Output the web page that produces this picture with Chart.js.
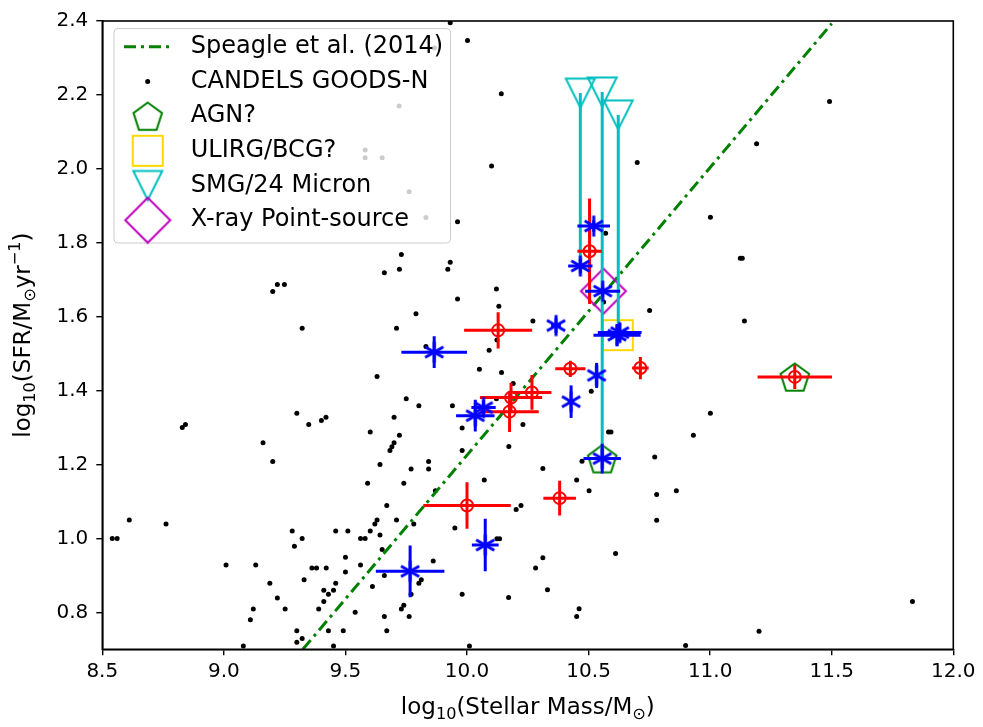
<!DOCTYPE html>
<html>
<head>
<meta charset="utf-8">
<title>SFR vs stellar mass</title>
<script src="https://cdn.jsdelivr.net/npm/chart.js@4.4.1/dist/chart.umd.min.js"></script>
<style>
  html, body { margin: 0; padding: 0; background: #fff; }
  #wrap { width: 983px; height: 727px; }
</style>
</head>
<body>
<div id="wrap"><canvas id="sfrChart" width="983" height="727"></canvas></div>
<script>
// CANDELS GOODS-N field galaxies
var candelsMass = [
  8.541, 8.561, 8.611, 8.762, 8.829, 8.842, 9.009, 9.131, 9.080, 9.109, 9.121, 9.189, 9.220, 9.252,
  9.161, 9.201, 9.300, 9.349, 9.401, 9.420, 9.281, 9.290, 9.322, 9.330, 9.362, 9.381, 9.421, 9.411,
  9.430, 9.411, 9.390, 9.451, 9.460, 9.460, 9.510, 9.500, 9.500, 9.300, 9.300, 9.322, 9.430, 9.451,
  9.491, 9.540, 9.562, 9.562, 9.581, 9.602, 9.611, 9.602, 9.591, 9.642, 9.621, 9.630, 9.642, 9.651,
  9.660, 9.670, 9.710, 9.683, 9.691, 9.700, 9.722, 9.700, 9.740, 9.770, 9.781, 9.660, 9.670, 9.730,
  9.740, 9.762, 9.770, 9.802, 9.812, 9.861, 9.802, 9.842, 9.842, 9.870, 9.940, 9.980, 9.980, 9.950,
  9.980, 10.010,
  9.201, 9.220, 9.249, 9.322, 9.630, 9.750, 9.660, 9.722, 9.730, 9.921, 9.931, 9.961, 9.790, 9.710,
  9.961, 9.762, 9.831,
  9.866, 9.721, 9.581, 9.581, 9.651, 9.931, 10.002,
  10.141, 10.101, 10.700, 10.121, 11.491, 11.191, 11.001, 11.124, 11.132, 10.570, 10.562,
  10.131, 10.271, 10.751, 9.831, 10.091, 10.123, 10.051, 10.142, 10.190, 10.121, 10.230, 10.172,
  10.511, 10.582, 10.592, 10.071, 10.312, 10.473, 10.451, 10.502, 10.772, 10.780, 10.861,
  11.141, 11.001, 10.931, 10.780, 10.611, 10.461, 10.451, 11.201, 10.899, 11.832,
  10.202, 10.222, 10.123, 10.134, 10.312, 10.282, 10.331, 10.171
];
var candelsSfr = [
  1.000, 1.000, 1.050, 1.039, 1.300, 1.308, 0.928, 0.928, 0.709, 0.780, 0.809, 0.879, 0.839, 0.809,
  1.259, 1.208, 1.339, 1.308, 1.319, 1.328, 1.020, 0.979, 1.000, 0.888, 0.920, 0.920, 0.920, 0.860,
  0.849, 0.829, 0.809, 0.860, 0.879, 1.020, 1.020, 0.949, 0.909, 0.750, 0.719, 0.729, 0.750, 0.709,
  0.750, 0.800, 0.928, 1.000, 1.000, 1.020, 0.870, 1.288, 1.149, 1.200, 1.039, 1.050, 1.009, 0.970,
  0.900, 1.089, 1.050, 1.238, 1.248, 1.259, 1.279, 1.328, 1.149, 1.188, 1.039, 0.789, 0.750, 0.809,
  0.819, 0.789, 0.849, 0.879, 0.888, 0.939, 1.359, 1.208, 1.188, 1.129, 1.359, 1.299, 1.238, 1.028,
  0.849, 0.709,
  1.668, 1.687, 1.687, 1.569, 1.438, 1.378, 1.719, 1.728, 1.768, 1.728, 1.747, 1.648, 1.608, 1.569,
  1.857, 1.938, 1.868,
  2.327, 2.170, 2.051, 2.030, 2.030, 2.395, 2.347,
  2.203, 2.008, 2.017, 1.675, 2.182, 2.068, 1.869, 1.758, 1.758, 1.826, 1.640,
  1.628, 1.588, 1.617, 1.519, 1.509, 1.537, 1.458, 1.449, 1.419, 1.378, 1.308, 1.249,
  1.398, 1.288, 1.288, 1.158, 1.189, 1.209, 1.158, 1.129, 1.220, 1.119, 1.129,
  1.588, 1.339, 1.279, 1.049, 0.959, 0.810, 0.789, 0.749, 0.710, 0.829,
  1.078, 1.089, 0.999, 0.999, 0.948, 0.920, 0.861, 0.840
];

// red sample (open circles with error bars)
var redMass    = [10.128, 10.425, 10.713, 10.267, 10.181, 10.175, 10.504, 10.381, 11.348, 10.000];
var redSfr     = [1.563, 1.459, 1.461, 1.395, 1.381, 1.343, 1.777, 1.109, 1.437, 1.089];
var redMassErr = [0.140, 0.062, 0.034, 0.080, 0.128, 0.120, 0.050, 0.067, 0.153, 0.180];
var redSfrErr  = [0.049, 0.022, 0.030, 0.047, 0.040, 0.055, 0.143, 0.047, 0.033, 0.063];

// blue sample (asterisks with error bars)
var blueMass    = [9.865, 10.366, 10.617, 10.628, 10.533, 10.428, 10.034, 10.068, 10.556, 9.766, 10.075, 10.521, 10.466, 10.558];
var blueSfr     = [1.504, 1.576, 1.550, 1.557, 1.441, 1.370, 1.332, 1.354, 1.216, 0.911, 0.982, 1.845, 1.737, 1.669];
var blueMassErr = [0.135, 0.020, 0.097, 0.090, 0.000, 0.000, 0.079, 0.050, 0.077, 0.141, 0.055, 0.067, 0.050, 0.072];
var blueSfrErr  = [0.043, 0.020, 0.030, 0.025, 0.034, 0.044, 0.043, 0.020, 0.040, 0.070, 0.071, 0.015, 0.020, 0.015];

// flagged objects
var agnMass = [11.348, 10.556];
var agnSfr  = [1.437, 1.216];
var ulirgMass = [10.620];
var ulirgSfr  = [1.550];
var smgMass = [10.466, 10.556, 10.622];
var smgSfr  = [2.205, 2.208, 2.146];
var smgSfrBase = [1.737, 1.216, 1.550];
var xrayMass = [10.561];
var xraySfr  = [1.669];

// Speagle et al. (2014) main sequence
var speagleMass = [9.325, 11.500];
var speagleSfr  = [0.700, 2.393];

var massTicks = [8.5, 9.0, 9.5, 10.0, 10.5, 11.0, 11.5, 12.0];
var sfrTicks = [0.8, 1.0, 1.2, 1.4, 1.6, 1.8, 2.0, 2.2, 2.4];

var legendLabels = ['Speagle et al. (2014)', 'CANDELS GOODS-N', 'AGN?', 'ULIRG/BCG?', 'SMG/24 Micron', 'X-ray Point-source'];

var FONT = '"DejaVu Sans", sans-serif';
var DASH_DOT = [12, 5, 3, 5];
Chart.defaults.font.family = FONT;
Chart.defaults.color = '#000';

function zipPoints(xs, ys) {
  return xs.map(function (x, i) { return { x: x, y: ys[i] }; });
}

// small offscreen canvases used as point styles
function markerCanvas(w, h, draw) {
  var c = document.createElement('canvas');
  c.width = w; c.height = h;
  var g = c.getContext('2d');
  draw(g, w / 2, h / 2);
  return c;
}

var pentagonMarker = markerCanvas(36, 36, function (g, cx, cy) {
  g.beginPath();
  for (var k = 0; k < 5; k++) {
    var a = -Math.PI / 2 + k * 2 * Math.PI / 5;
    g.lineTo(cx + 15 * Math.cos(a), cy + 1.5 + 15 * Math.sin(a));
  }
  g.closePath();
  g.strokeStyle = '#008000'; g.lineWidth = 2; g.lineJoin = 'miter'; g.stroke();
});

var squareMarker = markerCanvas(34, 34, function (g, cx, cy) {
  g.strokeStyle = '#FFD700'; g.lineWidth = 2;
  g.strokeRect(cx - 15, cy - 15, 30, 30);
});

var triangleMarker = markerCanvas(34, 34, function (g, cx, cy) {
  g.beginPath();
  g.moveTo(cx - 14.5, cy - 14.5);
  g.lineTo(cx + 14.5, cy - 14.5);
  g.lineTo(cx, cy + 14.5);
  g.closePath();
  g.strokeStyle = '#00BFBF'; g.lineWidth = 2; g.stroke();
});

var diamondMarker = markerCanvas(50, 50, function (g, cx, cy) {
  g.beginPath();
  g.moveTo(cx, cy - 22.5);
  g.lineTo(cx + 22.5, cy);
  g.lineTo(cx, cy + 22.5);
  g.lineTo(cx - 22.5, cy);
  g.closePath();
  g.strokeStyle = '#BF00BF'; g.lineWidth = 2; g.stroke();
});

var asteriskMarker = markerCanvas(26, 26, function (g, cx, cy) {
  g.strokeStyle = '#0000FF'; g.lineWidth = 3; g.lineCap = 'butt';
  [90, 30, -30].forEach(function (deg) {
    var a = deg * Math.PI / 180, dx = 10.5 * Math.cos(a), dy = 10.5 * Math.sin(a);
    g.beginPath(); g.moveTo(cx - dx, cy - dy); g.lineTo(cx + dx, cy + dy); g.stroke();
  });
});

function errorPoints(xs, ys, xe, ye) {
  return xs.map(function (x, i) { return { x: x, y: ys[i], xErr: xe[i], yErr: ye[i] }; });
}

// error bars and SMG stems, drawn right under their own markers
var errorBars = {
  id: 'errorBars',
  beforeDatasetDraw: function (chart, args) {
    var ds = chart.data.datasets[args.index];
    if (!ds.barColor) return;
    var xs = chart.scales.x, ys = chart.scales.y, ctx = chart.ctx;
    ctx.save();
    ctx.strokeStyle = ds.barColor;
    ctx.lineWidth = 3;
    ctx.lineCap = 'butt';
    ds.data.forEach(function (p) {
      var px = xs.getPixelForValue(p.x), py = ys.getPixelForValue(p.y);
      ctx.beginPath();
      if (p.base !== undefined) {
        ctx.moveTo(px, ys.getPixelForValue(p.base));
        ctx.lineTo(px, py);
      } else {
        if (p.xErr) {
          ctx.moveTo(xs.getPixelForValue(p.x - p.xErr), py);
          ctx.lineTo(xs.getPixelForValue(p.x + p.xErr), py);
        }
        if (p.yErr) {
          ctx.moveTo(px, ys.getPixelForValue(p.y - p.yErr));
          ctx.lineTo(px, ys.getPixelForValue(p.y + p.yErr));
        }
      }
      ctx.stroke();
    });
    ctx.restore();
  }
};

function drawRichText(ctx, parts, size) {
  var widths = [], total = 0;
  parts.forEach(function (p) {
    ctx.font = (size * p[1]) + 'px ' + FONT;
    var w = ctx.measureText(p[0]).width;
    widths.push(w); total += w;
  });
  var x = -total / 2;
  parts.forEach(function (p, i) {
    ctx.font = (size * p[1]) + 'px ' + FONT;
    ctx.fillText(p[0], x, p[2] * size);
    x += widths[i];
  });
}

// frame, axis titles and the legend box
var decorations = {
  id: 'decorations',
  afterDraw: function (chart) {
    var ctx = chart.ctx, a = chart.chartArea;
    ctx.save();
    ctx.strokeStyle = '#000';
    ctx.lineWidth = 1.6;
    ctx.strokeRect(a.left, a.top, a.right - a.left, a.bottom - a.top);

    ctx.fillStyle = '#000';
    ctx.textBaseline = 'alphabetic';
    ctx.textAlign = 'left';
    ctx.save();
    ctx.translate((a.left + a.right) / 2, 714);
    drawRichText(ctx, [['log', 1, 0], ['10', 0.7, 0.22], ['(Stellar Mass/M', 1, 0], ['\u2299', 0.7, 0.22], [')', 1, 0]], 23);
    ctx.restore();
    ctx.save();
    ctx.translate(30, (a.top + a.bottom) / 2);
    ctx.rotate(-Math.PI / 2);
    drawRichText(ctx, [['log', 1, 0], ['10', 0.7, 0.22], ['(SFR/M', 1, 0], ['\u2299', 0.7, 0.22], ['yr', 1, 0], ['\u22121', 0.7, -0.42], [')', 1, 0]], 23);
    ctx.restore();

    // legend
    var bx = 114, by = 28.5, bw = 336.5, bh = 214.5, r = 4;
    ctx.beginPath();
    ctx.moveTo(bx + r, by);
    ctx.arcTo(bx + bw, by, bx + bw, by + bh, r);
    ctx.arcTo(bx + bw, by + bh, bx, by + bh, r);
    ctx.arcTo(bx, by + bh, bx, by, r);
    ctx.arcTo(bx, by, bx + bw, by, r);
    ctx.closePath();
    ctx.fillStyle = 'rgba(255,255,255,0.8)';
    ctx.fill();
    ctx.strokeStyle = '#cccccc';
    ctx.lineWidth = 1;
    ctx.stroke();

    var mx = 147.7, tx = 190.7;
    legendLabels.forEach(function (label, i) {
      var y = 46.7 + i * 34.7;
      if (i === 0) {
        ctx.strokeStyle = '#008000'; ctx.lineWidth = 3;
        ctx.setLineDash(DASH_DOT);
        ctx.beginPath(); ctx.moveTo(124, y); ctx.lineTo(171.7, y); ctx.stroke();
        ctx.setLineDash([]);
      } else if (i === 1) {
        ctx.fillStyle = '#000';
        ctx.beginPath(); ctx.arc(mx, y, 2.5, 0, Math.PI * 2); ctx.fill();
      } else {
        var m = [pentagonMarker, squareMarker, triangleMarker, diamondMarker][i - 2];
        ctx.drawImage(m, mx - m.width / 2, y - m.height / 2);
      }
      ctx.fillStyle = '#000';
      ctx.font = '24px ' + FONT;
      ctx.textBaseline = 'middle';
      ctx.fillText(label, tx, y);
    });
    ctx.restore();
  }
};

var ctx = document.getElementById('sfrChart').getContext('2d');

var sfrChart = new Chart(ctx, {
  type: 'scatter',
  data: {
    datasets: [
      {
        label: 'blue',
        data: errorPoints(blueMass, blueSfr, blueMassErr, blueSfrErr),
        barColor: '#0000FF',
        pointStyle: asteriskMarker,
        pointRadius: 8
      },
      {
        label: 'red',
        data: errorPoints(redMass, redSfr, redMassErr, redSfrErr),
        barColor: '#FF0000',
        pointStyle: 'circle',
        pointRadius: 6,
        borderWidth: 2,
        borderColor: '#FF0000',
        backgroundColor: 'rgba(0,0,0,0)'
      },
      {
        label: legendLabels[4],
        data: smgMass.map(function (x, i) { return { x: x, y: smgSfr[i], base: smgSfrBase[i] }; }),
        barColor: '#00BFBF',
        pointStyle: triangleMarker,
        pointRadius: 14
      },
      {
        label: legendLabels[5],
        data: zipPoints(xrayMass, xraySfr),
        pointStyle: diamondMarker,
        pointRadius: 20
      },
      {
        label: legendLabels[3],
        data: zipPoints(ulirgMass, ulirgSfr),
        pointStyle: squareMarker,
        pointRadius: 15
      },
      {
        label: legendLabels[2],
        data: zipPoints(agnMass, agnSfr),
        pointStyle: pentagonMarker,
        pointRadius: 15
      },
      {
        label: legendLabels[0],
        type: 'line',
        data: zipPoints(speagleMass, speagleSfr),
        borderColor: '#008000',
        borderWidth: 3,
        borderDash: DASH_DOT,
        pointRadius: 0,
        fill: false
      },
      {
        label: legendLabels[1],
        data: zipPoints(candelsMass, candelsSfr),
        pointStyle: 'circle',
        pointRadius: 2.5,
        borderWidth: 0,
        backgroundColor: '#000'
      }
    ]
  },
  options: {
    responsive: false,
    devicePixelRatio: 1,
    animation: false,
    layout: { padding: { top: 14.7, right: 29.7, left: 0, bottom: 0 } },
    plugins: {
      legend: { display: false },
      tooltip: { enabled: false }
    },
    scales: {
      x: {
        type: 'linear',
        min: 8.5,
        max: 12.0,
        afterFit: function (scale) { scale.height = 77.7; },
        afterBuildTicks: function (scale) {
          scale.ticks = massTicks.map(function (v) { return { value: v }; });
        },
        ticks: {
          autoSkip: false,
          maxRotation: 0,
          padding: 4,
          color: '#000',
          font: { size: 20 },
          callback: function (v) { return Number(v).toFixed(1); }
        },
        grid: { drawOnChartArea: false, drawTicks: true, tickLength: 6, color: '#000', lineWidth: 1.4 },
        border: { display: true, color: '#000', width: 1.6 }
      },
      y: {
        type: 'linear',
        min: 0.7,
        max: 2.4,
        afterFit: function (scale) { scale.width = 102.3; },
        afterBuildTicks: function (scale) {
          scale.ticks = sfrTicks.map(function (v) { return { value: v }; });
        },
        ticks: {
          autoSkip: false,
          padding: 8,
          color: '#000',
          font: { size: 20 },
          callback: function (v) { return Number(v).toFixed(1); }
        },
        grid: { drawOnChartArea: false, drawTicks: true, tickLength: 6, color: '#000', lineWidth: 1.4 },
        border: { display: true, color: '#000', width: 1.6 }
      }
    }
  },
  plugins: [errorBars, decorations]
});
</script>
</body>
</html>
